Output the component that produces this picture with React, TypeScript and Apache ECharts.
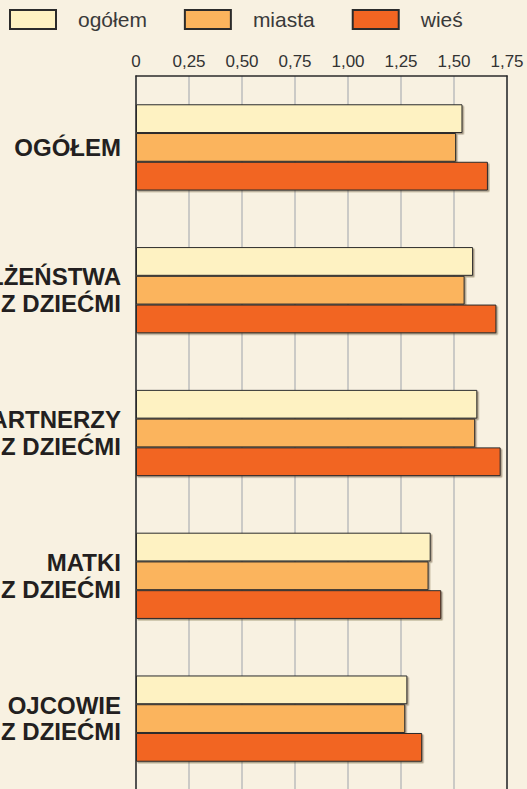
import React, { useEffect, useRef } from "react";
import * as echarts from "echarts";

const CATEGORIES = [
  "OGÓŁEM",
  "MAŁŻEŃSTWA\nZ DZIEĆMI",
  "PARTNERZY\nZ DZIEĆMI",
  "MATKI\nZ DZIEĆMI",
  "OJCOWIE\nZ DZIEĆMI",
];
const SERIES_NAMES = ["ogółem", "miasta", "wieś"];
const OGOLEM = [1.54, 1.59, 1.61, 1.39, 1.28];
const MIASTA = [1.51, 1.55, 1.6, 1.38, 1.27];
const WIES = [1.66, 1.7, 1.72, 1.44, 1.35];
const TICK_LABELS = ["0", "0,25", "0,50", "0,75", "1,00", "1,25", "1,50", "1,75"];

const COLORS = ["#FEF2C2", "#FBB45D", "#F26522"];
const BG = "#F8F1E1";
const LABEL_SHIFT = [3, 16, 13, 0, 0];

export default function App() {
  const ref = useRef<HTMLDivElement>(null);
  useEffect(() => {
    if (!ref.current) return;
    const chart = echarts.init(ref.current, null, { renderer: "svg" });
    const values = [OGOLEM, MIASTA, WIES];
    const font = "'Liberation Sans', Arial, sans-serif";
    const catData = CATEGORIES.map((c, i) => ({
      value: c,
      textStyle: { padding: [LABEL_SHIFT[i] * 2, 0, 0, 0] },
    }));
    chart.setOption({
      animation: false,
      backgroundColor: BG,
      textStyle: { fontFamily: font },
      legend: {
        left: 9,
        top: 9,
        padding: 0,
        icon: "rect",
        itemWidth: 46,
        itemHeight: 19,
        itemGap: 37,
        data: SERIES_NAMES,
        textStyle: {
          fontSize: 21,
          color: "#3a3a3a",
          fontFamily: font,
          padding: [0, 0, 0, 17],
        },
      },
      grid: {
        left: 136,
        top: 76,
        width: 371,
        height: 714,
        containLabel: false,
        outerBoundsMode: "none",
      },
      xAxis: {
        type: "value",
        position: "top",
        min: 0,
        max: 1.75,
        interval: 0.25,
        axisLine: { show: true, lineStyle: { color: "#2b2b2b", width: 1.5 } },
        axisTick: { show: false },
        splitLine: { show: true, lineStyle: { color: "#bcbcbc", width: 1.5 } },
        axisLabel: {
          margin: 6,
          fontSize: 17,
          color: "#333",
          fontFamily: font,
          formatter: (v: number) => TICK_LABELS[Math.round(v / 0.25)],
        },
      },
      yAxis: [
        {
          type: "category",
          inverse: true,
          data: catData,
          axisLine: { show: true, lineStyle: { color: "#2b2b2b", width: 1.5 } },
          axisTick: { show: false },
          axisLabel: {
            margin: 15,
            fontSize: 24,
            fontWeight: "bold",
            color: "#231f20",
            fontFamily: font,
            lineHeight: 26.5,
            align: "right",
          },
        },
        {
          type: "category",
          inverse: true,
          position: "right",
          data: CATEGORIES,
          axisLine: { show: true, lineStyle: { color: "#2b2b2b", width: 1.5 } },
          axisTick: { show: false },
          axisLabel: { show: false },
        },
      ],
      series: SERIES_NAMES.map((name, i) => ({
        name,
        type: "bar",
        yAxisIndex: 0,
        data: values[i],
        barGap: "0%",
        barCategoryGap: "39.6%",
        itemStyle: {
          color: COLORS[i],
          borderColor: "#2b2b2b",
          borderWidth: 1,
          shadowColor: "rgba(70,50,30,0.45)",
          shadowBlur: 1,
          shadowOffsetX: 1.5,
          shadowOffsetY: 1.5,
        },
      })),
    });
    return () => chart.dispose();
  }, []);
  return (
    <div
      style={{
        position: "fixed",
        left: 0,
        top: 0,
        width: 527,
        height: 789,
        background: BG,
      }}
    >
      <div ref={ref} style={{ width: 527, height: 789 }} />
    </div>
  );
}
